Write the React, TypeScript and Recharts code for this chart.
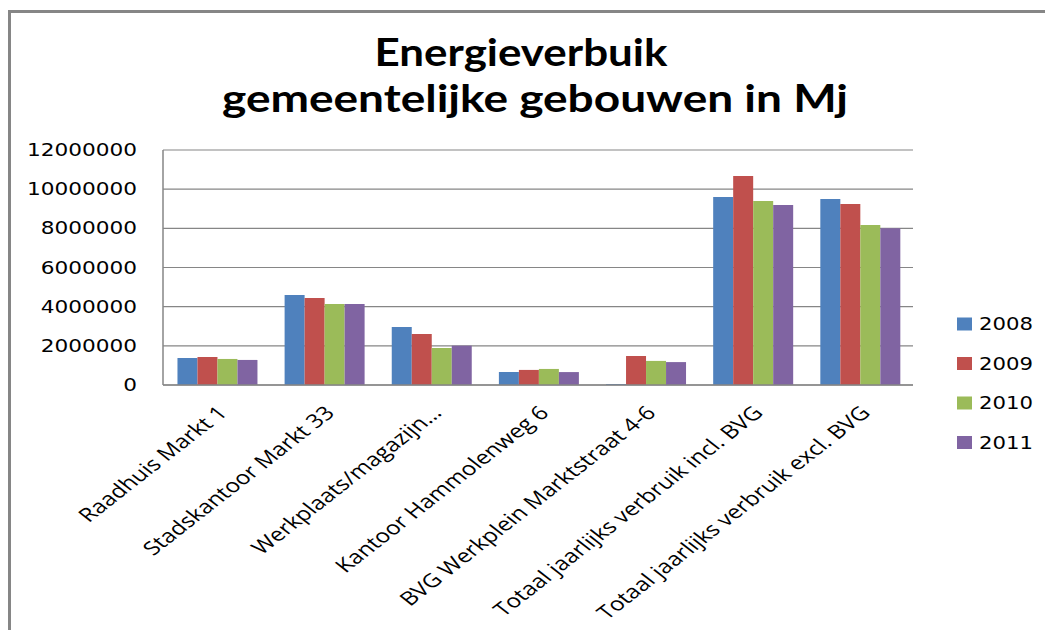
import React from "react";
import { BarChart, Bar, XAxis, YAxis, CartesianGrid, Legend } from "recharts";

const categories = [
  "Raadhuis Markt 1",
  "Stadskantoor Markt 33",
  "Werkplaats/magazijn…",
  "Kantoor Hammolenweg 6",
  "BVG Werkplein Marktstraat 4-6",
  "Totaal jaarlijks verbruik incl. BVG",
  "Totaal jaarlijks verbruik excl. BVG",
];
const v2008 = [1380000, 4600000, 2960000, 660000, 50000, 9600000, 9500000];
const v2009 = [1430000, 4440000, 2600000, 770000, 1480000, 10670000, 9240000];
const v2010 = [1330000, 4140000, 1890000, 820000, 1230000, 9400000, 8170000];
const v2011 = [1280000, 4140000, 2010000, 660000, 1170000, 9190000, 8000000];
const yTicks = [0, 2000000, 4000000, 6000000, 8000000, 10000000, 12000000];
const seriesNames = ["2008", "2009", "2010", "2011"];
const seriesColors = ["#4F81BD", "#C0504D", "#9BBB59", "#8064A2"];
const seriesValues = [v2008, v2009, v2010, v2011];
const titleLines = ["Energieverbuik", "gemeentelijke gebouwen in Mj"];

const data = categories.map((c, i) => {
  const row: Record<string, any> = { name: c };
  seriesNames.forEach((s, k) => {
    row[s] = seriesValues[k][i];
  });
  return row;
});

const GRAY = "#868686";
const DIGIT_W = 13.75;
const STRETCH = 1.28;

const YTick = (props: any) => {
  const { x, y, payload } = props;
  const label = String(payload.value);
  return (
    <text
      x={x}
      y={y}
      dy="0.36em"
      textAnchor="end"
      fontFamily="DejaVu Sans"
      fontSize={17}
      fill="#000"
      textLength={label.length * DIGIT_W}
      lengthAdjust="spacingAndGlyphs"
    >
      {label}
    </text>
  );
};

const XTick = (props: any) => {
  const { x, y, payload } = props;
  return (
    <g transform={`translate(${x + 12},${y + 29}) scale(${STRETCH},1) rotate(-45)`}>
      <text x={0} y={0} textAnchor="end" fontFamily="Open Sans" fontSize={19} fill="#000">
        {payload.value}
      </text>
    </g>
  );
};

const LegendContent = () => (
  <svg width={90} height={150} style={{ display: "block", overflow: "visible" }}>
    {seriesNames.map((s, i) => {
      const cy = 14 + i * 39.5;
      return (
        <g key={s}>
          <rect x={2} y={cy - 6.5} width={15} height={13} fill={seriesColors[i]} />
          <text
            x={24}
            y={cy}
            dy="0.36em"
            fontFamily="DejaVu Sans"
            fontSize={17}
            fill="#000"
            textLength={s.length * DIGIT_W - 1}
            lengthAdjust="spacingAndGlyphs"
          >
            {s}
          </text>
        </g>
      );
    })}
  </svg>
);

export default function App() {
  return (
    <div style={{ position: "absolute", left: 0, top: 0, width: 1045, height: 630, background: "#fff" }}>
      <BarChart
        width={1045}
        height={630}
        data={data}
        margin={{ top: 150, right: 132, bottom: 0, left: 0 }}
        barCategoryGap="13.5%"
        barGap={0}
      >
        <CartesianGrid vertical={false} stroke={GRAY} strokeWidth={1.2} />
        <XAxis
          dataKey="name"
          interval={0}
          height={245}
          tickLine={false}
          tickSize={0}
          tickMargin={0}
          axisLine={{ stroke: GRAY, strokeWidth: 1.5 }}
          tick={<XTick />}
        />
        <YAxis
          width={163}
          domain={[0, 12000000]}
          ticks={yTicks}
          interval={0}
          tickLine={false}
          tickSize={0}
          tickMargin={26}
          axisLine={{ stroke: GRAY, strokeWidth: 1.5 }}
          tick={<YTick />}
        />
        <Legend
          content={<LegendContent />}
          wrapperStyle={{
            position: "absolute",
            left: 955,
            top: 310,
            width: 0,
            height: 0,
            overflow: "visible",
          }}
        />
        {seriesNames.map((s, i) => (
          <Bar key={s} dataKey={s} fill={seriesColors[i]} isAnimationActive={false} />
        ))}
      </BarChart>
      <svg
        width={1045}
        height={630}
        style={{ position: "absolute", left: 0, top: 0, pointerEvents: "none" }}
      >
        <line x1={9.5} y1={10} x2={9.5} y2={630} stroke={GRAY} strokeWidth={3} />
        <line x1={8} y1={11.5} x2={1045} y2={11.5} stroke={GRAY} strokeWidth={3} />
        <text
          x={521}
          y={66}
          textAnchor="middle"
          fontFamily="Lato"
          fontWeight="bold"
          fontSize={38}
          fill="#000"
          textLength={293}
          lengthAdjust="spacingAndGlyphs"
        >
          {titleLines[0]}
        </text>
        <text
          x={535}
          y={112}
          textAnchor="middle"
          fontFamily="Lato"
          fontWeight="bold"
          fontSize={38}
          fill="#000"
          textLength={626}
          lengthAdjust="spacingAndGlyphs"
        >
          {titleLines[1]}
        </text>
      </svg>
    </div>
  );
}
